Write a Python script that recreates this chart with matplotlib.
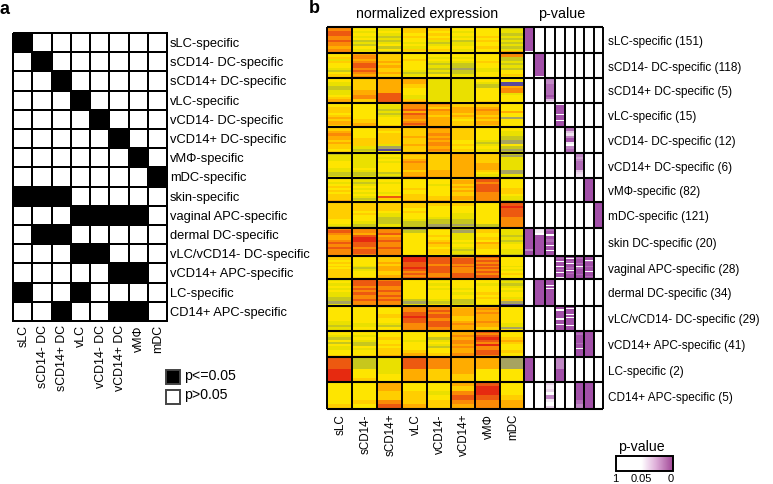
import matplotlib
matplotlib.use('Agg')
import matplotlib.pyplot as plt
import numpy as np
from matplotlib.colors import LinearSegmentedColormap

plt.rcParams['font.family'] = ['Liberation Sans', 'DejaVu Sans']

# Data
cells = ['sLC', 'sCD14- DC', 'sCD14+ DC', 'vLC', 'vCD14- DC', 'vCD14+ DC', 'vM\u03a6', 'mDC']
cells_b = ['sLC', 'sCD14-', 'sCD14+', 'vLC', 'vCD14-', 'vCD14+', 'vM\u03a6', 'mDC']
groups = ['sLC-specific', 'sCD14- DC-specific', 'sCD14+ DC-specific', 'vLC-specific',
          'vCD14- DC-specific', 'vCD14+ DC-specific', 'vM\u03a6-specific', 'mDC-specific',
          'skin-specific', 'vaginal APC-specific', 'dermal DC-specific',
          'vLC/vCD14- DC-specific', 'vCD14+ APC-specific', 'LC-specific', 'CD14+ APC-specific']
groups_b = ['sLC-specific (151)', 'sCD14- DC-specific (118)', 'sCD14+ DC-specific (5)',
            'vLC-specific (15)', 'vCD14- DC-specific (12)', 'vCD14+ DC-specific (6)',
            'vM\u03a6-specific (82)', 'mDC-specific (121)', 'skin DC-specific (20)',
            'vaginal APC-specific (28)', 'dermal DC-specific (34)',
            'vLC/vCD14- DC-specific (29)', 'vCD14+ APC-specific (41)',
            'LC-specific (2)', 'CD14+ APC-specific (5)']

significant = [[0], [1], [2], [3], [4], [5], [6], [7], [0, 1, 2], [3, 4, 5, 6],
               [1, 2], [3, 4], [5, 6], [0, 3], [2, 5, 6]]

# stripes per block, top to bottom, 0 = low (blue) .. 9 = high (red)
expression = [
    ['778877877677', '443434232434', '434323234242', '555454434354', '554545323454', '443434233434', '444454544544', '233232323236'],
    ['445354432455', '677678878767', '555565655655', '444544443234', '443432323244', '443432212234', '444454433444', '772232324454'],
    ['443322334566', '555555667755', '666666688888', '666554443356', '333333333333', '333333333334', '443224444445', '440067734444'],
    ['445554565665', '444444445566', '433232344445', '777868776787', '765766566666', '556665654555', '556766565665', '444464414444'],
    ['556766565545', '444445555323', '554555553104', '555565556555', '766767677676', '555555445454', '444444323434', '443322114212'],
    ['233344433223', '333333343223', '343434444232', '655676665667', '555555556666', '666666666666', '555556665433', '213333331133'],
    ['443454545556', '332343434323', '443444434854', '444445445556', '444344444556', '566565655665', '887888877777', '444445554332'],
    ['555555554432', '555545444322', '555543322233', '555454443222', '554444432211', '554443332212', '444444444422', '889888877777'],
    ['787667878777', '776899887887', '778678778777', '124444444444', '544545654554', '213334343232', '554454655445', '433232344332'],
    ['554545455555', '444443234445', '555656665566', '999888987878', '888878888778', '788878777888', '878787878788', '444443434544'],
    ['343434332213', '888787877877', '788778787877', '444444444213', '343434444324', '444434344223', '443444545443', '232343443510'],
    ['444444433233', '444444443344', '544455443244', '777889887777', '778788788877', '566665567666', '676766676655', '444444443314'],
    ['443242433445', '443432243445', '444544545556', '444434444566', '444234324455', '667677676677', '878987977887', '444565444544'],
    ['888999', '222445', '333344', '888666', '777555', '666655', '666444', '111444'],
    ['444445', '444454', '665578', '445556', '443455', '657876', '899877', '444566'],
]

# p-value stripes per row, only for the significant columns, 0 = white .. 9 = purple
pvalues = [
    {0: '999999999990'},
    {1: '999999999990'},
    {2: '777888889853'},
    {3: '80999999909999099999'},
    {4: '885379920788'},
    {5: '776788885432'},
    {6: '999999999999'},
    {7: '999999999999'},
    {0: '999999999999999979999', 1: '320999999999', 2: '8899909998899099909998'},
    {3: '9989909999098990999909', 4: '9909989099989099899999', 5: '9989999899089999989999', 6: '9999089999899909999899'},
    {1: '999999999999', 2: '9999909099999999999999'},
    {3: '9990999999909999099990', 4: '9909999099099999909999'},
    {5: '9989999999899909999999', 6: '999999999999'},
    {0: '999999', 3: '777999'},
    {2: '42407204', 5: '999987', 6: '999999'},
]
colorbar_ticks = ['1', '0.05', '0']

# Layout in pixels
a_left, a_right, a_top, a_bottom = 13, 167, 33, 321
col_edges = [327, 352, 377, 402, 427, 451, 475, 500, 524]
p_edges = [524, 534, 545, 555, 565, 575, 584, 594, 603]
row_edges = [27, 53, 78, 103, 127, 153, 178, 202, 228, 256, 279, 306, 331, 357, 382, 409]

expr_cmap = LinearSegmentedColormap.from_list('expr', [
    '#5a4a9a', '#a8a560', '#c8c81c', '#eae000', '#ffe600',
    '#ffcf00', '#ffac00', '#fb8c06', '#ee5a10', '#e62a10'])
p_cmap = LinearSegmentedColormap.from_list('pv', ['#ffffff', '#e8cfe8', '#a24fa8'])
bar_cmap = LinearSegmentedColormap.from_list(
    'pbar', [(0, '#ffffff'), (0.45, '#ffffff'), (0.7, '#dfb0da'), (1, '#a24a98')])

fig = plt.figure(figsize=(7.73, 4.84), dpi=100)
ax = fig.add_axes([0, 0, 1, 1])
ax.set_xlim(0, 773)
ax.set_ylim(484, 0)
ax.axis('off')


def stripes(text, extent, cmap):
    vals = np.array([[int(c)] for c in text])
    ax.imshow(vals, cmap=cmap, vmin=0, vmax=9, extent=extent, aspect='auto',
              interpolation='nearest', zorder=1)


# Panel a
a_x = np.linspace(a_left, a_right, len(cells) + 1)
a_y = np.linspace(a_top, a_bottom, len(groups) + 1)
mask = np.zeros((len(groups), len(cells)))
for i, cols in enumerate(significant):
    mask[i, cols] = 1
ax.pcolormesh(a_x, a_y, mask, cmap='gray_r', vmin=0, vmax=1, edgecolors='#000000', linewidth=1.2)
ax.hlines(a_y, a_left, a_right, color='black', lw=1.3, zorder=3)
ax.vlines(a_x, a_top, a_bottom, color='black', lw=1.3, zorder=3)
for i, name in enumerate(groups):
    ax.text(170, (a_y[i] + a_y[i + 1]) / 2 + 1.5, name, fontsize=9.3, va='center', ha='left')
for j, name in enumerate(cells):
    ax.text((a_x[j] + a_x[j + 1]) / 2 + 1, 325, name, fontsize=8.9, rotation=90, va='top', ha='center')

ax.add_patch(plt.Rectangle((166, 370), 14, 14, fc='black', ec='#444444', lw=1.4))
ax.add_patch(plt.Rectangle((166, 390), 14, 14, fc='white', ec='#444444', lw=1.4))
ax.text(184, 376, 'p<=0.05', fontsize=10.2, va='center')
ax.text(184, 395, 'p>0.05', fontsize=10.2, va='center')
ax.text(0, 14, 'a', fontsize=13, fontweight='bold', va='baseline')
ax.text(309, 13, 'b', fontsize=13, fontweight='bold', va='baseline')

# Panel b
for i, row in enumerate(expression):
    for j, text in enumerate(row):
        stripes(text, (col_edges[j], col_edges[j + 1], row_edges[i + 1], row_edges[i]), expr_cmap)
    for j, text in pvalues[i].items():
        stripes(text, (p_edges[j], p_edges[j + 1], row_edges[i + 1], row_edges[i]), p_cmap)
ax.set_xlim(0, 773)
ax.set_ylim(484, 0)
ax.hlines(row_edges, col_edges[0], p_edges[-1], color='black', lw=1.5, zorder=3)
ax.vlines(col_edges, row_edges[0], row_edges[-1], color='black', lw=1.4, zorder=3)
ax.vlines(p_edges, row_edges[0], row_edges[-1], color='black', lw=1.4, zorder=3)

for i, name in enumerate(groups_b):
    ax.text(608, (row_edges[i] + row_edges[i + 1]) / 2 + 2, name, fontsize=8.5, va='center', ha='left')
for j, name in enumerate(cells_b):
    ax.text((col_edges[j] + col_edges[j + 1]) / 2 + 1, 414, name, fontsize=8.4, rotation=90, va='top', ha='center')
ax.text(427, 14, 'normalized expression', fontsize=10.2, ha='center', va='center')
ax.text(562, 14, 'p-value', fontsize=10.4, ha='center', va='center')

# Colour bar
gradient = np.linspace(0, 1, 100).reshape(1, -1)
ax.imshow(gradient, cmap=bar_cmap, extent=(616, 673, 471, 456), aspect='auto', zorder=1)
ax.set_xlim(0, 773)
ax.set_ylim(484, 0)
ax.add_patch(plt.Rectangle((616, 456), 57, 15, fc='none', ec='black', lw=1.4, zorder=3))
ax.text(641, 447, 'p-value', fontsize=10.2, ha='center', va='center')
for x, lab in zip([615, 641, 671], colorbar_ticks):
    ax.text(x, 478.5, lab, fontsize=8, ha='center', va='center')

fig.savefig('out.png', dpi=100)
plt.close()
